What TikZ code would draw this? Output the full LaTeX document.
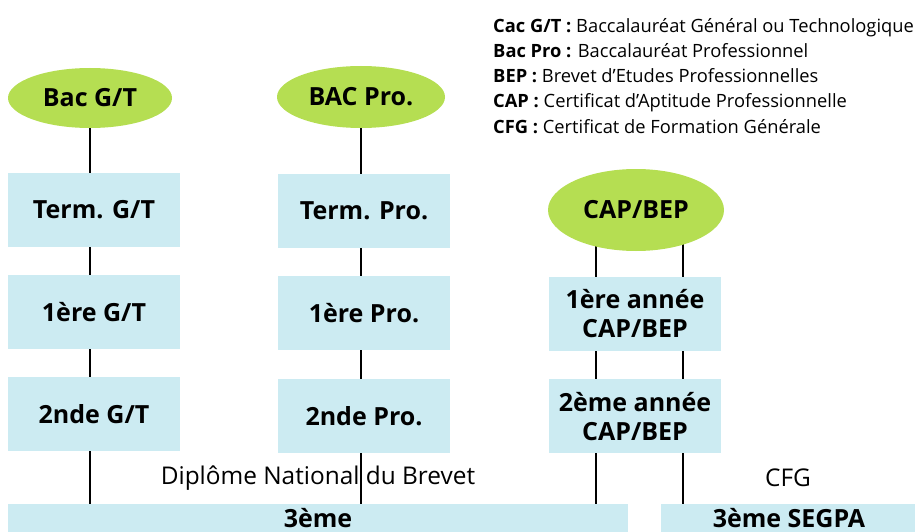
\documentclass[tikz,border=0pt]{standalone}
\usepackage{fontspec}
\setmainfont{Open Sans}
\usetikzlibrary{positioning, shapes.geometric, backgrounds}
\definecolor{boxblue}{RGB}{204,235,242}
\definecolor{diplgreen}{RGB}{181,222,82}

\begin{document}
\begin{tikzpicture}[
    x=1pt, y=-1pt,
    node distance=28pt,
    every node/.style={font=\fontsize{25}{29}\selectfont\bfseries},
    year/.style={fill=boxblue, minimum width=172pt, minimum height=74pt, align=center, inner sep=0pt},
    diploma/.style={ellipse, fill=diplgreen, inner sep=0pt},
    base/.style={year, minimum height=28pt, text height=18pt, text depth=0pt},
    line/.style={line width=1.6pt},
    plain/.style={font=\fontsize{24.4}{29}\selectfont}
]
\useasboundingbox (0,0) rectangle (915,532);

% legend
\node[anchor=base west, align=left, inner sep=0pt, font=\fontsize{18.3}{25.2}\selectfont] (legend) at (493,133)
  {\textbf{Cac G/T :} Baccalauréat Général ou Technologique\\
   \textbf{Bac Pro :} Baccalauréat Professionnel\\
   \textbf{BEP :} Brevet d’Etudes Professionnelles\\
   \textbf{CAP :} Certificat d’Aptitude Professionnelle\\
   \textbf{CFG :} Certificat de Formation Générale};

% general and technological track
\node[diploma, minimum width=164pt, minimum height=60pt] (bacgt) at (90,98) {Bac G/T};
\node[year] (termgt) at (94,209.5) {Term. G/T};
\node[year, below=of termgt] (premgt) {1ère G/T};
\node[year, below=of premgt] (sndgt) {2nde G/T};

% professional track
\node[diploma, minimum width=168pt, minimum height=62pt] (bacpro) at (361,97) {BAC Pro.};
\node[year] (termpro) at (364,211) {Term. Pro.};
\node[year, below=of termpro] (prempro) {1ère Pro.};
\node[year, below=of prempro] (sndpro) {2nde Pro.};

% CAP/BEP track
\node[diploma, minimum width=176pt, minimum height=82pt] (capbep) at (636,210) {CAP/BEP};
\node[year] (capa1) at (635,314) {1ère année\\CAP/BEP};
\node[year, below=of capa1] (capa2) {2ème année\\CAP/BEP};

% 3eme
\node[base, minimum width=620pt] (troisieme) at (318,518) {3ème};
\node[base, minimum width=256pt] (segpa) at (789,518) {3ème SEGPA};
\node[plain] (dnb) at (318,478) {Diplôme National du Brevet};
\node[plain] (cfg) at (788,478) {CFG};

\coordinate (capl) at (596,0);
\coordinate (capr) at (683,0);

\begin{scope}[on background layer]
\draw[line] (bacgt) -- (bacgt |- troisieme.north);
\draw[line] (bacpro) -- (bacpro |- troisieme.north);
\draw[line] (capl |- capbep) -- (capl |- troisieme.north);
\draw[line] (capr |- capbep) -- (capr |- segpa.north);
\end{scope}
\end{tikzpicture}
\end{document}
